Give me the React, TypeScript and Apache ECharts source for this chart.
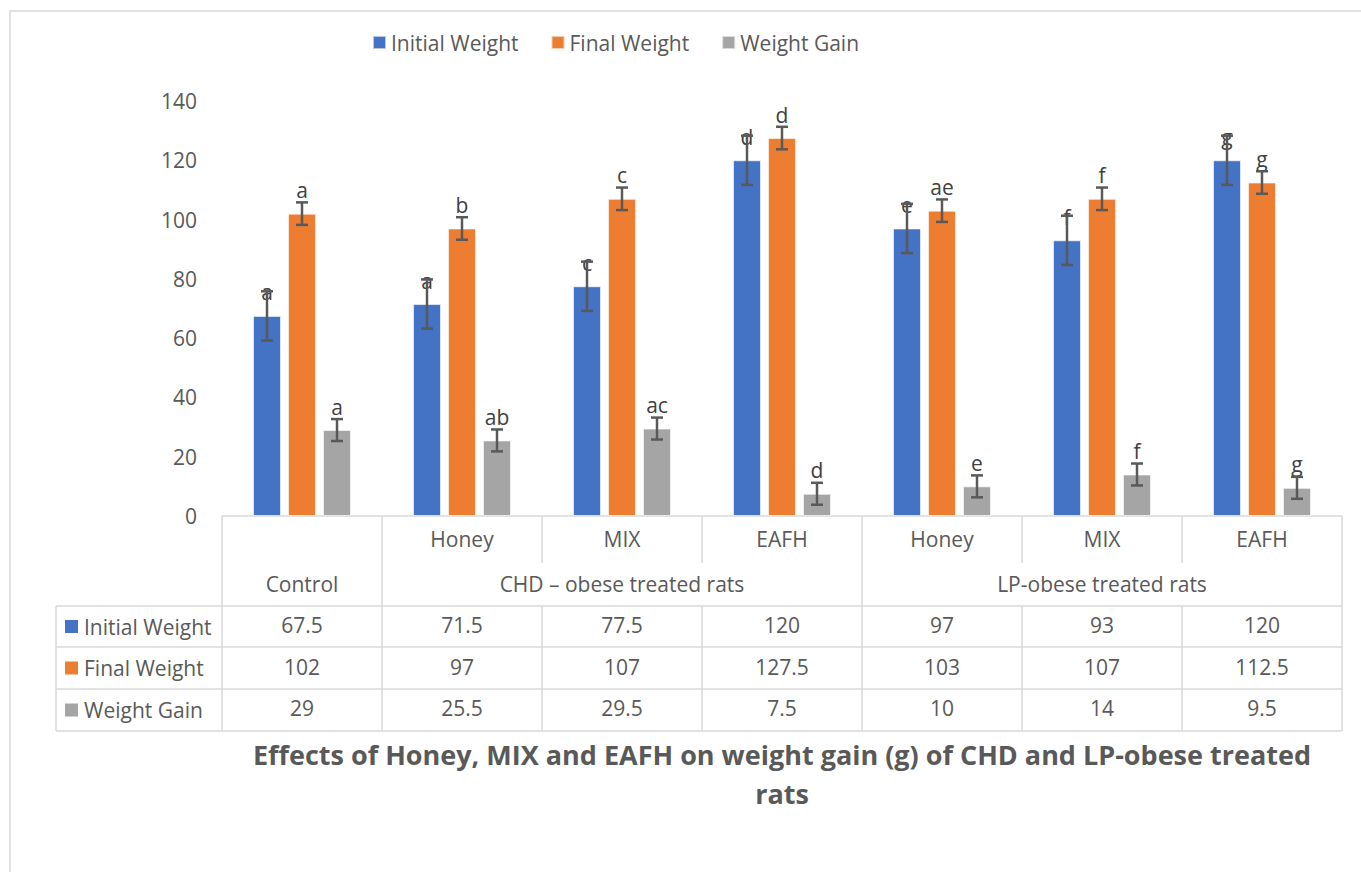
import React, { useEffect, useRef } from "react";
import * as echarts from "echarts";

const subLabels = ["", "Honey", "MIX", "EAFH", "Honey", "MIX", "EAFH"];
const groupLabels = ["Control", "", "CHD – obese treated rats", "", "", "LP-obese treated rats", ""];
const seriesNames = ["Initial Weight", "Final Weight", "Weight Gain"];
const initialWeight = [67.5, 71.5, 77.5, 120, 97, 93, 120];
const finalWeight = [102, 97, 107, 127.5, 103, 107, 112.5];
const weightGain = [29, 25.5, 29.5, 7.5, 10, 14, 9.5];
const initialErr = [8.3, 8.3, 8.3, 8.3, 8.3, 8.3, 8.3];
const finalErr = [3.8, 3.8, 3.8, 3.8, 3.8, 3.8, 3.8];
const gainErr = [3.7, 3.7, 3.7, 3.7, 3.7, 3.7, 3.7];
const initialLetters = ["a", "a", "c", "d", "e", "f", "g"];
const finalLetters = ["a", "b", "c", "d", "ae", "f", "g"];
const gainLetters = ["a", "ab", "ac", "d", "e", "f", "g"];
const yTicks = { min: 0, max: 140, interval: 20 };
const titleText = "Effects of Honey, MIX and EAFH on weight gain (g) of CHD and LP-obese treated\nrats";

const COLORS = ["#4472C4", "#ED7D31", "#A5A5A5"];
const FONT = "'Open Sans', sans-serif";
const TXT = "#595959";
const LINE = "#d9d9d9";
const FS = 21;

export default function App() {
  const ref = useRef<HTMLDivElement>(null);
  useEffect(() => {
    if (!ref.current) return;
    const chart = echarts.init(ref.current, null, { renderer: "svg" });
    const gridLeft = 222;
    const gridRight = 1342;
    const axisY = 516;
    const n = subLabels.length;
    const cw = (gridRight - gridLeft) / n;
    const rowTop2 = 563;
    const rowY = [606, 647, 689, 731];
    const tableLeft = 56;
    const barW = 28;
    const gap = 7;

    const values = [initialWeight, finalWeight, weightGain];
    const errs = [initialErr, finalErr, gainErr];
    const letters = [initialLetters, finalLetters, gainLetters];

    const graphics: any[] = [];
    graphics.push({
      type: "rect",
      shape: { x: 10, y: 11, width: 1400, height: 900 },
      style: { fill: "none", stroke: LINE, lineWidth: 1.5 },
      silent: true,
    });
    const line = (x1: number, y1: number, x2: number, y2: number) => ({
      type: "line",
      shape: { x1, y1, x2, y2 },
      style: { stroke: LINE, lineWidth: 1.5 },
      silent: true,
    });
    const groupBounds = [0, 1, 4, 7];
    for (let i = 0; i <= n; i++) {
      const x = gridLeft + i * cw;
      if (groupBounds.includes(i)) {
        graphics.push(line(x, axisY, x, rowY[3]));
      } else {
        graphics.push(line(x, axisY, x, rowTop2));
        graphics.push(line(x, rowY[0], x, rowY[3]));
      }
    }
    graphics.push(line(tableLeft, rowY[0], tableLeft, rowY[3]));
    rowY.forEach((y) => graphics.push(line(tableLeft, y, gridRight, y)));
    seriesNames.forEach((name, k) => {
      const cy = (rowY[k] + rowY[k + 1]) / 2;
      graphics.push({
        type: "rect",
        shape: { x: 65, y: cy - 6.5, width: 13, height: 13 },
        style: { fill: COLORS[k] },
        silent: true,
      });
      graphics.push({
        type: "text",
        x: 84,
        y: cy,
        style: {
          text: name,
          fill: TXT,
          font: `${FS}px ${FONT}`,
          textVerticalAlign: "middle",
          textAlign: "left",
        },
        silent: true,
      });
    });
    graphics.push({
      type: "text",
      x: 782,
      y: 735,
      style: {
        text: titleText,
        fill: TXT,
        font: `bold 27px ${FONT}`,
        textAlign: "center",
        lineHeight: 39,
      },
      silent: true,
    });

    const rowAxis = (data: string[], margin: number) => ({
      type: "category",
      data,
      position: "bottom",
      axisLine: { show: false },
      axisTick: { show: false },
      axisLabel: { interval: 0, margin, fontSize: FS, color: TXT, fontFamily: FONT },
      splitLine: { show: false },
    });

    const option: any = {
      animation: false,
      backgroundColor: "#ffffff",
      legend: {
        data: seriesNames,
        left: 367,
        top: 27,
        itemWidth: 13,
        itemHeight: 13,
        itemGap: 32,
        icon: "rect",
        textStyle: { fontSize: FS, color: TXT, fontFamily: FONT },
      },
      grid: { left: gridLeft, right: 1361 - gridRight, top: 101, bottom: 872 - axisY, containLabel: false },
      xAxis: [
        {
          type: "category",
          data: subLabels,
          position: "bottom",
          axisLine: { show: true, lineStyle: { color: LINE, width: 1.5 } },
          axisTick: { show: false },
          axisLabel: { interval: 0, margin: 12, fontSize: FS, color: TXT, fontFamily: FONT },
        },
        rowAxis(groupLabels, 57),
        rowAxis(initialWeight.map(String), 98),
        rowAxis(finalWeight.map(String), 140),
        rowAxis(weightGain.map(String), 181),
      ],
      yAxis: {
        type: "value",
        min: yTicks.min,
        max: yTicks.max,
        interval: yTicks.interval,
        axisLine: { show: false },
        axisTick: { show: false },
        splitLine: { show: false },
        axisLabel: { margin: 25, fontSize: FS, color: TXT, fontFamily: FONT },
      },
      graphic: graphics,
      series: [
        ...seriesNames.map((name, k) => ({
          name,
          type: "bar",
          xAxisIndex: 0,
          data: values[k],
          barWidth: barW,
          barGap: `${(gap / barW) * 100}%`,
          itemStyle: { color: COLORS[k], borderColor: "rgba(255,255,255,0.6)", borderWidth: 1 },
          label: {
            show: true,
            position: "top",
            distance: 13,
            formatter: (p: any) => letters[k][p.dataIndex],
            fontSize: FS,
            color: "#404040",
            fontFamily: FONT,
          },
          z: 2,
        })),
        ...seriesNames.map((name, k) => ({
          name: name + " error",
          type: "custom",
          xAxisIndex: 0,
          z: 10,
          data: values[k].map((v, i) => [i, v, errs[k][i]]),
          encode: { x: 0, y: 1 },
          renderItem: (params: any, api: any) => {
            const i = api.value(0);
            const v = api.value(1);
            const e = api.value(2);
            const off = (k - 1) * (barW + gap);
            const x = api.coord([i, v])[0] + off;
            const yt = api.coord([i, v + e])[1];
            const yb = api.coord([i, v - e])[1];
            const style = { stroke: "#595959", lineWidth: 2.5 };
            return {
              type: "group",
              children: [
                { type: "line", shape: { x1: x, y1: yt, x2: x, y2: yb }, style },
                { type: "line", shape: { x1: x - 6, y1: yt, x2: x + 6, y2: yt }, style },
                { type: "line", shape: { x1: x - 6, y1: yb, x2: x + 6, y2: yb }, style },
              ],
            };
          },
        })),
      ],
    };
    chart.setOption(option);
    return () => chart.dispose();
  }, []);
  return (
    <div
      ref={ref}
      style={{ position: "fixed", left: 0, top: 0, width: 1361, height: 872, background: "#fff" }}
    />
  );
}
